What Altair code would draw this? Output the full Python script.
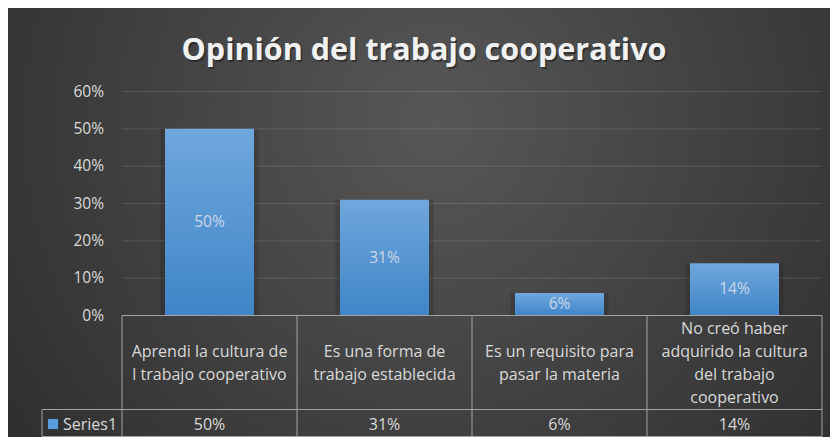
import altair as alt
import pandas as pd

# ---- data ----
title_text = "Opinión del trabajo cooperativo"
categories = [
    "Aprendi  la cultura de\nl trabajo cooperativo",
    "Es una forma de\ntrabajo establecida",
    "Es un requisito para\npasar la materia",
    "No creó haber\nadquirido la cultura\ndel trabajo\ncooperativo",
]
values = [0.50, 0.31, 0.06, 0.14]
series_name = "Series1"
y_ticks = [0, 0.1, 0.2, 0.3, 0.4, 0.5, 0.6]

# ---- layout / style ----
W, H = 700, 224
FONT = "Open Sans"
TXT = "#d9d9d9"
LINE = "#a3a3a3"
TABLE_BOTTOM = 345
ROW_TOP = 318
LINE_H = 22.7
TFS = 16

df = pd.DataFrame({"cat": categories, "v": values})
# vertical offset so that multi-line labels are centred in their cell
df["off"] = [-(c.count("\n")) * LINE_H / 2 for c in categories]
ticks_df = pd.DataFrame({"t": y_ticks})
one = pd.DataFrame({"a": [0]})
title_df = pd.DataFrame({"t": [title_text]})
series_df = pd.DataFrame({"s": [series_name]})

xscale = alt.Scale(domain=categories, paddingInner=0, paddingOuter=0)
xenc = alt.X("cat:N", sort=categories, scale=xscale, axis=None)
yscale = alt.Scale(domain=[0, 0.6], nice=False, zero=True)

bg = alt.Chart(one).mark_rect(
    fill=alt.RadialGradient(
        gradient="radial",
        stops=[{"offset": 0, "color": "#575757"}, {"offset": 1, "color": "#2a2a2a"}],
        x1=0.52, y1=0.38, r1=0, x2=0.52, y2=0.38, r2=0.72,
    )
).encode(x=alt.value(-114), x2=alt.value(W + 8), y=alt.value(-83.5), y2=alt.value(H + 121.5))

grid = alt.Chart(ticks_df).mark_rule(color="#ffffff", opacity=0.12, strokeWidth=1).encode(
    y=alt.Y("t:Q", scale=yscale, axis=None),
    x=alt.value(0),
    x2=alt.value(W),
)

ylabels = alt.Chart(ticks_df).mark_text(
    font=FONT, fontSize=15.5, color=TXT, align="right", baseline="middle"
).encode(
    y=alt.Y("t:Q", scale=yscale, axis=None),
    x=alt.value(-18),
    text=alt.Text("t:Q", format=".0%"),
)

bar_shadow = alt.Chart(df).mark_bar(
    width=alt.RelativeBandSize(0.56), color="#000000", opacity=0.14
).encode(x=xenc, y=alt.Y("v:Q", scale=yscale, axis=None))

bars = alt.Chart(df).mark_bar(
    width=alt.RelativeBandSize(89 / 175),
    color=alt.LinearGradient(
        gradient="linear",
        stops=[{"offset": 0, "color": "#70a7dd"}, {"offset": 1, "color": "#3f85c7"}],
        x1=0, x2=0, y1=0, y2=1,
    ),
).encode(x=xenc, y=alt.Y("v:Q", scale=yscale, axis=None))

bar_labels = alt.Chart(df).transform_calculate(mid="datum.v / 2").mark_text(
    font=FONT, fontSize=15.5, color="#cad8ea", baseline="middle"
).encode(x=xenc, y=alt.Y("mid:Q", scale=yscale, axis=None), text=alt.Text("v:Q", format=".0%"))

# table lines
vlines = alt.Chart(df).mark_rule(color=LINE).encode(
    x=alt.X("cat:N", sort=categories, scale=xscale, axis=None, bandPosition=0),
    y=alt.value(H), y2=alt.value(TABLE_BOTTOM),
)
vright = alt.Chart(one).mark_rule(color=LINE).encode(
    x=alt.value(W), y=alt.value(H), y2=alt.value(TABLE_BOTTOM)
)
vleft = alt.Chart(one).mark_rule(color=LINE).encode(
    x=alt.value(-80), y=alt.value(ROW_TOP), y2=alt.value(TABLE_BOTTOM)
)
htop = alt.Chart(one).mark_rule(color=LINE).encode(
    x=alt.value(0), x2=alt.value(W), y=alt.value(H)
)
hrow = alt.Chart(one).mark_rule(color=LINE).encode(
    x=alt.value(-80), x2=alt.value(W), y=alt.value(ROW_TOP)
)
hbot = alt.Chart(one).mark_rule(color=LINE).encode(
    x=alt.value(-80), x2=alt.value(W), y=alt.value(TABLE_BOTTOM)
)

header = alt.Chart(df).mark_text(
    font=FONT, fontSize=TFS, color=TXT, lineBreak="\n", lineHeight=LINE_H, baseline="middle"
).encode(
    x=xenc,
    y=alt.value(272),
    yOffset=alt.YOffset("off:Q", scale=None),
    text="cat:N",
)

row_vals = alt.Chart(df).mark_text(
    font=FONT, fontSize=TFS, color=TXT, baseline="middle"
).encode(x=xenc, y=alt.value(333), text=alt.Text("v:Q", format=".0%"))

series_lbl = alt.Chart(series_df).mark_text(
    font=FONT, fontSize=TFS, color=TXT, baseline="middle", align="left"
).encode(x=alt.value(-59), y=alt.value(333), text="s:N")

series_sq = alt.Chart(one).mark_rect(color="#5a9bdc").encode(
    x=alt.value(-74), x2=alt.value(-64), y=alt.value(327.5), y2=alt.value(337.5)
)

title_shadow = alt.Chart(title_df).mark_text(
    font=FONT, fontSize=30.5, fontWeight="bold", color="#000000", opacity=0.35, baseline="alphabetic"
).encode(x=alt.value(303.5), y=alt.value(-29.5), text="t:N")

title = alt.Chart(title_df).mark_text(
    font=FONT, fontSize=30.5, fontWeight="bold", color="#f2f2f2", baseline="alphabetic"
).encode(x=alt.value(302), y=alt.value(-31.5), text="t:N")

chart = alt.layer(
    bg, grid, ylabels, bar_shadow, bars, bar_labels,
    vlines, vright, vleft, htop, hrow, hbot,
    header, row_vals, series_sq, series_lbl,
    title_shadow, title,
).properties(
    width=W,
    height=H,
    padding={"left": 114, "top": 83.5, "right": 8, "bottom": 121.5},
    autosize="none",
    background="#3a3a3a",
).configure_view(stroke=None).configure_axis(grid=False)

chart.save("out.html", embed_options={"renderer": "svg", "actions": False})
